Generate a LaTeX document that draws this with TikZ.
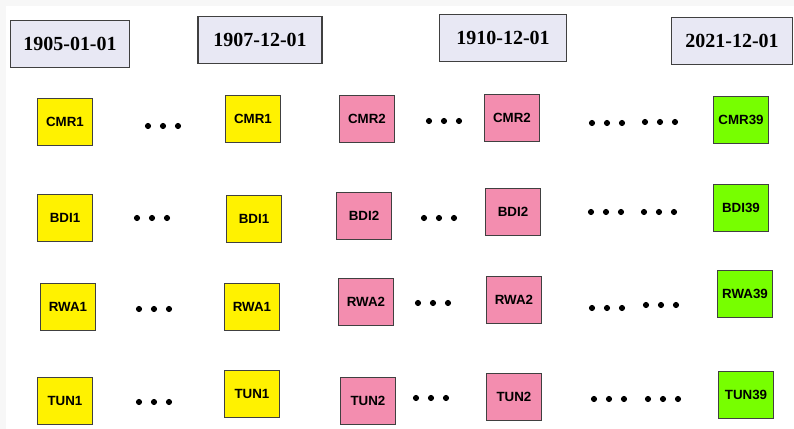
\documentclass[tikz,border=0pt]{standalone}
\usepackage{fontspec}
\setmainfont{Liberation Serif}
\newfontfamily\boxfont{Liberation Sans}
\definecolor{datefill}{RGB}{232,232,244}
\definecolor{pinkfill}{RGB}{243,141,175}
\definecolor{greenfill}{RGB}{119,255,0}

\begin{document}
\begin{tikzpicture}[
    x=0.75pt, y=-0.75pt,
    date/.style={draw=black!75, fill=datefill, line width=1pt, minimum width=89pt, minimum height=35pt, font=\fontsize{15}{16}\selectfont\bfseries},
    cell/.style={draw=black!75, line width=1pt, minimum width=41pt, minimum height=35pt, inner sep=1pt, font=\boxfont\fontsize{10}{11}\selectfont\bfseries},
    yel/.style={cell, fill=yellow},
    pnk/.style={cell, fill=pinkfill},
    grn/.style={cell, fill=greenfill},
    dot/.style={fill=black}
]

    % Frame
    \fill[black!3] (0,0) rectangle (794,429);
    \fill[white] (6,6) rectangle (794,429);
    \useasboundingbox (0,0) rectangle (794,429);

    % Dates
    \node[date] (d1905) at (70,44) {1905-01-01};
    \node[date, minimum width=93pt] (d1907) at (260,40) {1907-12-01};
    \node[date, minimum width=95pt] (d1910) at (503,38) {1910-12-01};
    \node[date, minimum width=91pt] (d2021) at (732,41) {2021-12-01};

    % Row CMR
    \node[yel] (cmr1) at (65,122) {CMR1};
    \node[yel] (cmr1b) at (253,119) {CMR1};
    \node[pnk] (cmr2) at (367,119) {CMR2};
    \node[pnk] (cmr2b) at (512,118) {CMR2};
    \node[grn] (cmr39) at (741,120) {CMR39};

    % Row BDI
    \node[yel] (bdi1) at (65,218) {BDI1};
    \node[yel] (bdi1b) at (254,219) {BDI1};
    \node[pnk] (bdi2) at (364,216) {BDI2};
    \node[pnk] (bdi2b) at (513,212) {BDI2};
    \node[grn] (bdi39) at (741,208) {BDI39};

    % Row RWA
    \node[yel] (rwa1) at (68,307) {RWA1};
    \node[yel] (rwa1b) at (252,307) {RWA1};
    \node[pnk] (rwa2) at (366,302) {RWA2};
    \node[pnk] (rwa2b) at (514,300) {RWA2};
    \node[grn] (rwa39) at (745,294) {RWA39};

    % Row TUN
    \node[yel] (tun1) at (65,401) {TUN1};
    \node[yel] (tun1b) at (252,394) {TUN1};
    \node[pnk] (tun2) at (368,401) {TUN2};
    \node[pnk] (tun2b) at (514,397) {TUN2};
    \node[grn] (tun39) at (746,395) {TUN39};

    % Dots between the columns
    \foreach \cx/\cy in {163/126, 444/121, 607/123, 660/122,
                         152/218, 439/218, 606/212, 659/212,
                         154/309, 433/303, 607/308, 661/305,
                         154/402, 431/398, 609/399, 663/399}
        \foreach \dx in {-15,0,15}
            \fill[dot] (\cx+\dx,\cy) circle[radius=2.3pt];

\end{tikzpicture}
\end{document}
